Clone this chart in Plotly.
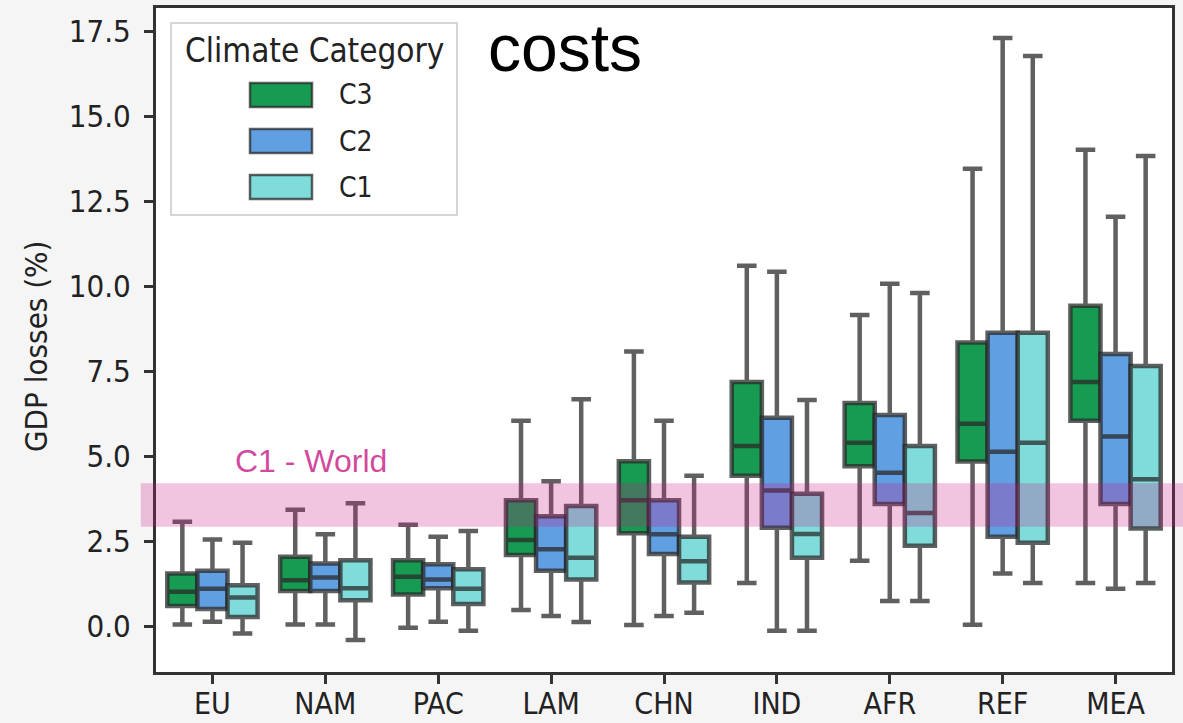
import plotly.graph_objects as go

regions = ["EU", "NAM", "PAC", "LAM", "CHN", "IND", "AFR", "REF", "MEA"]
categories = ["C3", "C2", "C1"]
colors = {"C3": "#179B52", "C2": "#619FE3", "C1": "#7FDCDB"}

c3_q1 = [0.60, 1.04, 0.94, 2.10, 2.74, 4.43, 4.71, 4.85, 6.05]
c3_med = [1.02, 1.36, 1.46, 2.54, 3.71, 5.31, 5.40, 5.96, 7.19]
c3_q3 = [1.56, 2.05, 1.95, 3.71, 4.86, 7.19, 6.57, 8.35, 9.43]
c3_lo = [0.06, 0.06, -0.04, 0.48, 0.04, 1.28, 1.93, 0.05, 1.28]
c3_hi = [3.08, 3.43, 2.99, 6.05, 8.09, 10.61, 9.16, 13.46, 14.02]

c2_q1 = [0.51, 1.04, 1.12, 1.64, 2.13, 2.90, 3.60, 2.64, 3.60]
c2_med = [1.11, 1.44, 1.38, 2.27, 2.71, 4.00, 4.52, 5.14, 5.59]
c2_q3 = [1.64, 1.85, 1.83, 3.24, 3.71, 6.14, 6.22, 8.64, 8.01]
c2_lo = [0.14, 0.06, 0.14, 0.31, 0.31, -0.13, 0.75, 1.56, 1.11]
c2_hi = [2.56, 2.71, 2.64, 4.27, 6.05, 10.43, 10.08, 17.31, 12.05]

c1_q1 = [0.28, 0.77, 0.66, 1.38, 1.29, 2.02, 2.37, 2.46, 2.88]
c1_med = [0.85, 1.12, 1.11, 2.02, 1.92, 2.72, 3.34, 5.40, 4.33]
c1_q3 = [1.21, 1.95, 1.68, 3.54, 2.64, 3.90, 5.31, 8.64, 7.66]
c1_lo = [-0.21, -0.40, -0.13, 0.13, 0.40, -0.13, 0.75, 1.28, 1.28]
c1_hi = [2.46, 3.62, 2.81, 6.68, 4.43, 6.66, 9.81, 16.78, 13.84]

world_c1_band = [2.93, 4.21]
y_ticks = [0.0, 2.5, 5.0, 7.5, 10.0, 12.5, 15.0, 17.5]

stats = {
    "C3": (c3_q1, c3_med, c3_q3, c3_lo, c3_hi),
    "C2": (c2_q1, c2_med, c2_q3, c2_lo, c2_hi),
    "C1": (c1_q1, c1_med, c1_q3, c1_lo, c1_hi),
}

LINE = "rgba(40,40,40,0.74)"
FAM = "DejaVu Sans Condensed, DejaVu Sans, sans-serif"
TICKFONT = dict(family=FAM, size=31, color="#222")
XTICKFONT = dict(family=FAM, size=30, color="#222")
ITEMFONT = dict(family=FAM, size=28, color="#222")
LTITLEFONT = dict(family=FAM, size=33, color="#222")

fig = go.Figure()
for cat in categories:
    q1, med, q3, lo, hi = stats[cat]
    fig.add_trace(go.Box(
        name=cat, x=regions, q1=q1, median=med, q3=q3,
        lowerfence=lo, upperfence=hi,
        fillcolor=colors[cat], line=dict(color=LINE, width=4.5),
        whiskerwidth=0.65, boxpoints=False, showlegend=False,
    ))

fig.add_shape(type="rect", xref="paper", yref="y", x0=-0.015, x1=1.05,
              y0=world_c1_band[0], y1=world_c1_band[1],
              fillcolor="rgba(199,21,133,0.25)", line=dict(width=0), layer="above")

fig.add_annotation(x=0.18, y=4.86, xref="x", yref="y", text="C1 - World",
                   showarrow=False, xanchor="left", yanchor="middle",
                   font=dict(family="Liberation Sans, Arial", size=32, color="rgba(199,21,133,0.8)"))

L, R, T, B = 156, 1172, 8, 672
def px(xp):
    return (xp - L) / (R - L)
def py(yp):
    return (B - yp) / (B - T)

# title (second line visible in the frame)
fig.add_annotation(x=px(486), y=py(48), xref="paper", yref="paper", text="costs",
                   showarrow=False, xanchor="left", yanchor="middle",
                   font=dict(family="Liberation Sans, Arial", size=66, color="black"))

# y axis title
fig.add_annotation(x=px(36), y=py(347), xref="paper", yref="paper", text="GDP losses (%)",
                   textangle=-90, showarrow=False, xanchor="center", yanchor="middle",
                   font=TICKFONT)

# manual legend
fig.add_shape(type="rect", xref="paper", yref="paper", x0=px(171), x1=px(457),
              y0=py(215), y1=py(23), fillcolor="rgba(255,255,255,0.85)",
              line=dict(color="#D6D6D6", width=2), layer="above")
fig.add_annotation(x=px(314.5), y=py(50), xref="paper", yref="paper", text="Climate Category",
                   showarrow=False, xanchor="center", yanchor="middle", font=LTITLEFONT)
for cat, yc in zip(categories, [95, 141, 187]):
    fig.add_shape(type="rect", xref="paper", yref="paper", x0=px(250), x1=px(312),
                  y0=py(yc + 12), y1=py(yc - 12), fillcolor=colors[cat],
                  line=dict(color=LINE, width=2.5), layer="above")
    fig.add_annotation(x=px(337), y=py(yc), xref="paper", yref="paper", text=cat,
                       showarrow=False, xanchor="left", yanchor="middle", font=ITEMFONT)

axis_common = dict(showline=True, linecolor="#333", linewidth=3, mirror=True,
                   ticks="outside", ticklen=9, tickwidth=2.5, tickcolor="#333",
                   showgrid=False, zeroline=False)

fig.update_layout(
    width=1183, height=723,
    margin=dict(l=L, r=1183 - R, t=T, b=723 - B, autoexpand=False),
    paper_bgcolor="#F5F5F5", plot_bgcolor="white",
    boxmode="group", boxgap=0.2, boxgroupgap=0,
    xaxis=dict(categoryorder="array", categoryarray=regions, tickfont=XTICKFONT,
               ticklabelstandoff=-6, **axis_common),
    yaxis=dict(range=[-1.34, 18.19], tickvals=y_ticks, tickformat=".1f", tickfont=TICKFONT,
               ticklabelstandoff=7, **axis_common),
)

fig.write_html("out.html", config={"displayModeBar": False},
               post_script="document.body.style.margin='0';document.body.style.overflow='hidden';")
